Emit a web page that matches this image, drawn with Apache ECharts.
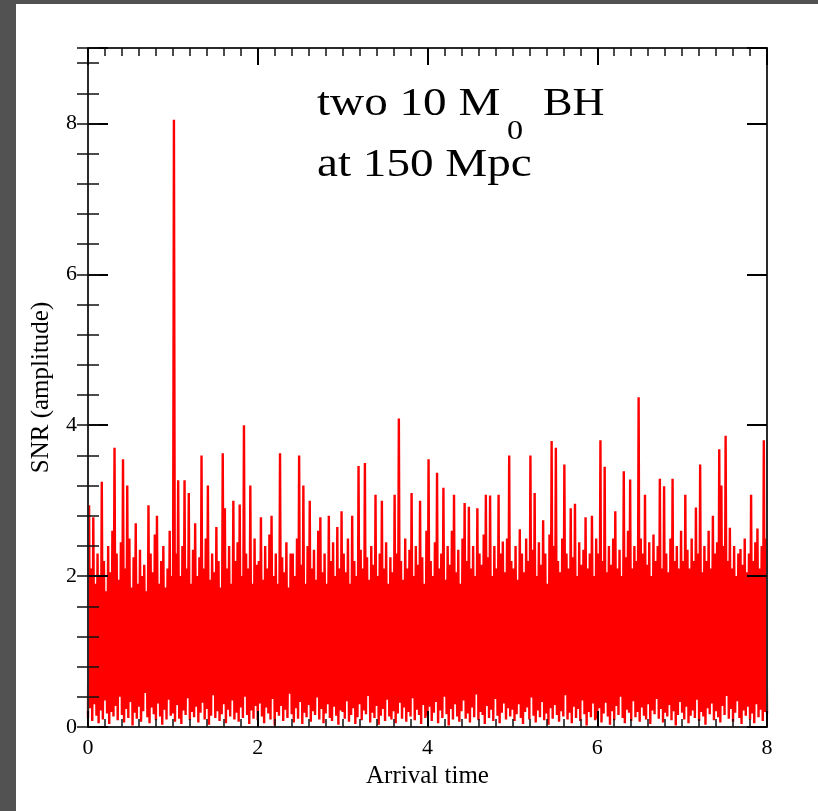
<!DOCTYPE html>
<html>
<head>
<meta charset="utf-8">
<script src="https://cdn.jsdelivr.net/npm/echarts@6/dist/echarts.min.js"></script>
<style>
html,body{margin:0;padding:0;background:#525252;width:818px;height:811px;overflow:hidden;}
#chart{position:absolute;left:16px;top:4px;width:802px;height:807px;background:#ffffff;}
</style>
</head>
<body>
<div id="chart"></div>
<script>
// Time sampling: each unit of arrival time holds 40 (low, high) sample pairs
const timeStep = 0.0125;
const xTicks = [0, 2, 4, 6, 8];
const yTicks = [0, 2, 4, 6, 8];

const lowUnit0 = [0.12,0.25,0.08,0.3,0.15,0.05,0.22,0.1,0.35,0.18,
  0.04,0.2,0.14,0.28,0.09,0.4,0.16,0.06,0.24,0.12,
  0.33,0.02,0.19,0.11,0.27,0.07,0.21,0.45,0.13,0.05,
  0.26,0.17,0.09,0.31,0.14,0.03,0.23,0.1,0.36,0.15];
const highUnit0 = [2.94,2.1,2.78,1.9,2.3,2.0,3.25,2.2,1.8,2.4,
  2.05,2.6,3.7,2.3,1.95,2.45,3.55,2.1,3.2,2.5,
  1.85,2.25,2.7,1.9,2.35,2.0,2.15,1.8,2.94,2.3,
  2.05,2.55,2.8,1.9,2.2,2.4,1.85,2.1,2.6,2.0];

const lowUnit1 = [0.18,0.07,0.29,0.11,0.04,0.22,0.16,0.38,0.09,0.2,
  0.13,0.27,0.06,0.19,0.32,0.1,0.24,0.03,0.15,0.42,
  0.12,0.21,0.08,0.17,0.3,0.05,0.23,0.14,0.35,0.1,
  0.19,0.07,0.26,0.12,0.4,0.16,0.04,0.22,0.11,0.28];
const highUnit1 = [8.05,2.3,3.27,2.0,2.4,3.27,2.1,3.1,1.9,2.35,
  2.7,2.0,2.25,3.6,2.1,2.5,3.2,1.95,2.3,2.05,
  2.65,2.2,1.85,3.63,2.9,2.1,2.4,1.9,3.0,2.2,
  2.45,2.95,2.0,4.0,2.3,2.1,3.2,1.9,2.5,2.15];

const lowUnit2 = [0.09,0.31,0.14,0.05,0.26,0.18,0.1,0.37,0.02,0.2,
  0.15,0.28,0.08,0.23,0.12,0.44,0.17,0.06,0.25,0.11,
  0.33,0.04,0.19,0.13,0.29,0.07,0.21,0.16,0.39,0.1,
  0.24,0.05,0.18,0.3,0.12,0.08,0.27,0.15,0.03,0.22];
const highUnit2 = [2.2,2.78,1.95,2.4,2.1,2.55,2.8,2.0,2.3,1.9,
  3.63,2.25,2.05,2.45,1.85,2.3,2.3,2.0,2.5,3.6,
  2.15,3.2,1.9,2.4,3.0,2.1,2.35,1.95,2.6,2.78,
  2.05,2.3,1.9,2.8,2.2,2.45,2.0,2.65,2.1,2.86];

const lowUnit3 = [0.2,0.11,0.34,0.07,0.16,0.25,0.04,0.13,0.3,0.09,
  0.22,0.17,0.41,0.06,0.19,0.12,0.28,0.03,0.15,0.24,
  0.08,0.36,0.14,0.1,0.21,0.05,0.18,0.32,0.11,0.26,
  0.07,0.2,0.14,0.38,0.09,0.23,0.16,0.04,0.29,0.12];
const highUnit3 = [2.3,2.05,2.5,1.9,2.8,2.2,2.0,3.46,2.35,2.1,
  3.5,2.25,1.95,2.4,2.15,3.08,2.0,2.3,3.0,2.1,
  2.45,1.9,2.25,2.05,3.08,2.3,4.09,2.2,1.95,2.5,
  2.1,2.35,3.1,2.0,2.4,2.15,3.0,2.25,1.9,2.6];

const lowUnit4 = [0.15,0.27,0.08,0.19,0.33,0.05,0.22,0.12,0.4,0.17,
  0.02,0.24,0.1,0.3,0.14,0.07,0.21,0.35,0.11,0.18,
  0.06,0.26,0.13,0.43,0.09,0.2,0.16,0.04,0.28,0.12,
  0.23,0.08,0.37,0.15,0.05,0.19,0.31,0.1,0.25,0.14];
const highUnit4 = [3.55,2.2,2.0,2.45,3.37,2.1,2.3,3.17,1.95,2.4,
  2.15,2.6,3.08,2.05,2.35,1.9,2.5,2.97,2.2,2.92,
  2.1,2.4,2.0,2.9,2.3,2.15,2.55,3.08,2.25,3.07,
  2.0,2.4,2.1,3.08,2.3,2.46,2.05,2.5,3.6,2.2];

const lowUnit5 = [0.23,0.08,0.17,0.3,0.12,0.04,0.2,0.26,0.1,0.39,
  0.15,0.06,0.22,0.13,0.33,0.09,0.18,0.03,0.25,0.11,
  0.29,0.16,0.07,0.21,0.14,0.42,0.1,0.19,0.05,0.27,
  0.12,0.24,0.08,0.35,0.17,0.02,0.2,0.13,0.31,0.09];
const highUnit5 = [2.1,2.4,1.95,2.62,2.3,2.05,2.5,2.2,3.6,2.35,
  3.1,2.0,2.45,2.15,2.74,2.3,1.9,2.55,3.79,2.4,
  3.7,2.2,2.05,2.5,3.48,2.3,2.1,2.9,2.25,2.96,
  2.0,2.45,2.15,2.35,2.78,2.1,2.3,2.8,2.0,2.5];

const lowUnit6 = [0.11,0.25,0.06,0.18,0.32,0.14,0.03,0.21,0.09,0.28,
  0.16,0.4,0.12,0.05,0.23,0.19,0.08,0.34,0.13,0.2,
  0.07,0.26,0.15,0.1,0.3,0.04,0.22,0.17,0.37,0.11,
  0.24,0.06,0.19,0.14,0.29,0.09,0.21,0.02,0.16,0.33];
const highUnit6 = [2.3,3.8,2.2,3.45,2.05,2.4,2.15,2.5,2.86,2.1,
  2.35,2.0,3.39,2.25,2.6,3.28,2.1,2.4,2.2,4.37,
  2.5,2.3,3.08,2.15,2.45,2.0,2.55,2.2,2.4,3.29,
  2.1,3.19,2.3,2.05,2.5,3.29,2.2,2.4,2.1,2.6];

const lowUnit7 = [0.19,0.1,0.27,0.05,0.15,0.22,0.12,0.36,0.08,0.2,
  0.14,0.03,0.25,0.17,0.31,0.09,0.21,0.13,0.06,0.28,
  0.16,0.41,0.11,0.24,0.07,0.19,0.34,0.12,0.04,0.22,
  0.15,0.27,0.1,0.18,0.05,0.3,0.13,0.23,0.08,0.2];
const highUnit7 = [2.2,3.08,2.35,2.1,2.5,2.2,2.91,2.3,3.48,2.05,
  2.4,2.2,2.6,2.1,2.8,2.3,2.45,3.68,3.2,2.4,
  3.86,2.2,2.64,2.1,2.4,2.0,2.3,2.36,2.15,2.5,
  2.05,2.3,3.08,2.2,2.45,2.63,2.1,2.4,3.8,2.5];

const endValue = 0.18;

const lowUnits = [lowUnit0, lowUnit1, lowUnit2, lowUnit3, lowUnit4, lowUnit5, lowUnit6, lowUnit7];
const highUnits = [highUnit0, highUnit1, highUnit2, highUnit3, highUnit4, highUnit5, highUnit6, highUnit7];

const seriesData = [];
let idx = 0;
for (let u = 0; u < lowUnits.length; u++) {
  for (let p = 0; p < lowUnits[u].length; p++) {
    seriesData.push([+(idx * timeStep).toFixed(4), lowUnits[u][p]]); idx++;
    seriesData.push([+(idx * timeStep).toFixed(4), highUnits[u][p]]); idx++;
  }
}
seriesData.push([+(idx * timeStep).toFixed(4), endValue]);

const serif = 'Liberation Serif';
const axisColor = '#2a2a2a';

function majorTick(len) { return { show: true, inside: true, length: len, lineStyle: { color: '#000', width: 2 } }; }
function titleText(x, y, text, size, sx) {
  return { type: 'text', x: x, y: y, scaleX: sx, z: 20,
    style: { text: text, fontFamily: serif, fontSize: size, fill: '#000', align: 'left', verticalAlign: 'middle' } };
}

const option = {
  animation: false,
  backgroundColor: '#ffffff',
  grid: { left: 72, top: 44, right: 51, bottom: 84, containLabel: false },
  xAxis: [
    {
      type: 'value', position: 'bottom', min: xTicks[0], max: xTicks[xTicks.length - 1], interval: 2, z: 10,
      axisLine: { show: true, onZero: false, lineStyle: { color: axisColor, width: 2 } },
      axisTick: majorTick(16),
      minorTick: { show: true, splitNumber: 10, length: 8, lineStyle: { color: '#111', width: 1.5 } },
      splitLine: { show: false }, minorSplitLine: { show: false },
      axisLabel: { show: true, margin: 10, fontFamily: serif, fontSize: 22, color: '#000' },
      name: 'Arrival time', nameLocation: 'middle', nameGap: 34,
      nameTextStyle: { fontFamily: serif, fontSize: 25, color: '#000' }
    },
    {
      type: 'value', position: 'top', min: xTicks[0], max: xTicks[xTicks.length - 1], interval: 2, z: 10,
      axisLine: { show: true, onZero: false, lineStyle: { color: axisColor, width: 2 } },
      axisTick: majorTick(17),
      minorTick: { show: true, splitNumber: 10, length: 8, lineStyle: { color: '#111', width: 1.5 } },
      splitLine: { show: false }, axisLabel: { show: false }
    }
  ],
  yAxis: [
    {
      type: 'value', position: 'left', min: yTicks[0], max: 9, interval: 2, z: 10,
      axisLine: { show: true, onZero: false, lineStyle: { color: axisColor, width: 2 } },
      axisTick: majorTick(20),
      splitLine: { show: false },
      axisLabel: { show: true, margin: 11, fontFamily: serif, fontSize: 22, color: '#000',
        formatter: function (v) { return yTicks.indexOf(v) >= 0 ? String(v) : ''; } },
      name: 'SNR (amplitude)', nameLocation: 'middle', nameGap: 34, nameRotate: 90,
      nameTextStyle: { fontFamily: serif, fontSize: 25, color: '#000' }
    },
    {
      type: 'value', position: 'left', min: 0, max: 9, interval: 0.4, z: 10,
      axisLine: { show: false }, axisTick: { show: true, inside: true, length: 11, lineStyle: { color: '#111', width: 1.5 } },
      splitLine: { show: false }, axisLabel: { show: false }
    },
    {
      type: 'value', position: 'right', min: yTicks[0], max: 9, interval: 2, z: 10,
      axisLine: { show: true, onZero: false, lineStyle: { color: axisColor, width: 2 } },
      axisTick: majorTick(20),
      splitLine: { show: false }, axisLabel: { show: false }
    },
    {
      type: 'value', position: 'right', min: 0, max: 9, interval: 0.4, z: 10,
      axisLine: { show: false }, axisTick: { show: true, inside: true, length: 11, lineStyle: { color: '#111', width: 1.5 } },
      splitLine: { show: false }, axisLabel: { show: false }
    }
  ],
  graphic: [
    titleText(301, 100.7, 'two 10 M', 41, 1.15),
    titleText(491, 127.6, '0', 28, 1.15),
    titleText(527, 100.7, 'BH', 41, 1.08),
    titleText(301, 161.7, 'at 150 Mpc', 41, 1.15)
  ],
  series: [
    {
      type: 'line', xAxisIndex: 0, yAxisIndex: 0, data: seriesData,
      showSymbol: false, symbol: 'none', sampling: null, clip: true, z: 2,
      lineStyle: { color: '#ff0000', width: 2.4, join: 'miter', miterLimit: 2 },
      emphasis: { disabled: true }
    }
  ]
};

const chart = echarts.init(document.getElementById('chart'), null, { renderer: 'canvas' });
chart.setOption(option);
</script>
</body>
</html>
